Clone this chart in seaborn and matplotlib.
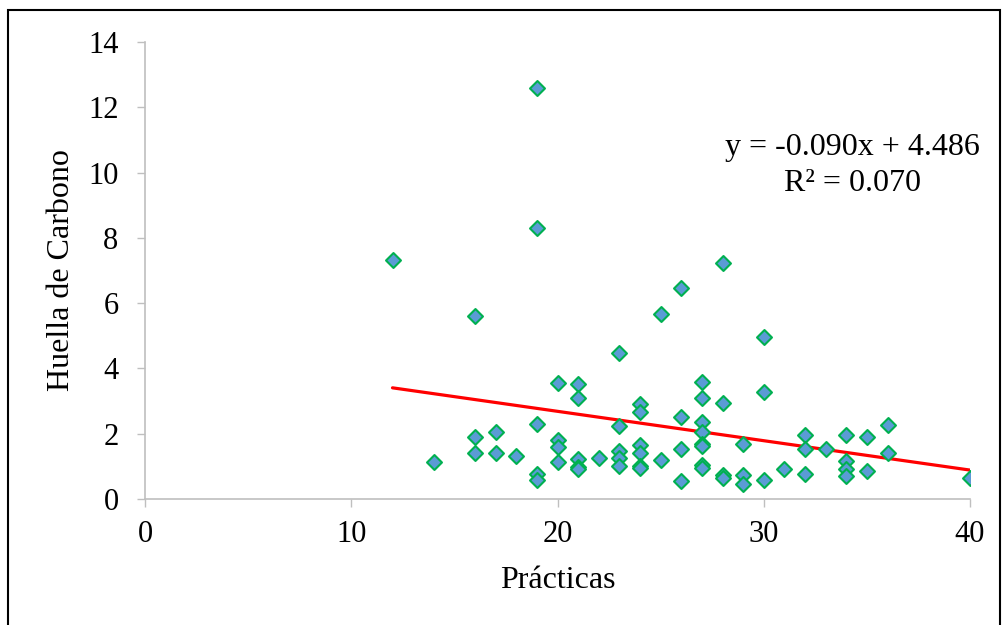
import numpy as np
import pandas as pd
import matplotlib
matplotlib.use("Agg")
import matplotlib.pyplot as plt
import seaborn as sns
from matplotlib.patches import Rectangle

# ---- data ----
practicas = [12,
             14,
             16, 16, 16,
             17, 17,
             18,
             19, 19, 19, 19, 19,
             20, 20, 20, 20,
             21, 21, 21, 21, 21,
             22,
             23, 23, 23, 23, 23,
             24, 24, 24, 24, 24, 24,
             25, 25,
             26, 26, 26, 26,
             27, 27, 27, 27, 27, 27, 27, 27,
             28, 28, 28, 28,
             29, 29, 29,
             30, 30, 30,
             31,
             32, 32, 32,
             33,
             34, 34, 34, 34,
             35, 35,
             36, 36,
             40]
huella = [7.32,
          1.14,
          5.60, 1.90, 1.42,
          2.04, 1.40,
          1.33,
          12.58, 8.31, 2.29, 0.77, 0.57,
          3.55, 1.81, 1.58, 1.13,
          3.53, 3.09, 1.23, 0.99, 0.91,
          1.27,
          4.46, 2.24, 1.46, 1.27, 1.00,
          2.91, 2.67, 1.64, 1.40, 1.00, 0.96,
          5.66, 1.19,
          6.45, 2.50, 1.52, 0.56,
          3.57, 3.10, 2.35, 2.05, 1.70, 1.62, 1.05, 0.95,
          7.23, 2.94, 0.74, 0.65,
          1.68, 0.74, 0.46,
          4.95, 3.27, 0.57,
          0.92,
          1.97, 1.54, 0.78,
          1.52,
          1.97, 1.17, 0.91, 0.70,
          1.91, 0.86,
          2.26, 1.41,
          0.65]
# linear trendline as printed on the chart
trend_slope = -0.090
trend_intercept = 4.486
trend_r2 = 0.070
x_ticks = [0, 10, 20, 30, 40]
y_ticks = [0, 2, 4, 6, 8, 10, 12, 14]

df = pd.DataFrame({"Prácticas": practicas, "Huella de Carbono": huella})
trend_x = [min(practicas), max(practicas)]
trend_df = pd.DataFrame({"x": trend_x,
                         "y": [trend_slope * v + trend_intercept for v in trend_x]})
equation_text = f"y = {trend_slope:.3f}x + {trend_intercept:.3f}\nR² = {trend_r2:.3f}"

sns.set_style("white")
plt.rcParams["font.family"] = ["Liberation Serif", "DejaVu Serif"]
plt.rcParams["text.color"] = "black"
plt.rcParams["axes.labelcolor"] = "black"

fig = plt.figure(figsize=(10.04, 6.25), dpi=100)
ax = fig.add_axes([145/1004, 1-499/625, (970-145)/1004, (499-42)/625])

sns.lineplot(data=trend_df, x="x", y="y", ax=ax, color="#FF0000",
             linewidth=2.3, zorder=1)
sns.scatterplot(data=df, x="Prácticas", y="Huella de Carbono", ax=ax,
                marker="D", s=58, color="#5B9BD5", edgecolor="#00B050",
                linewidth=1.5, zorder=3)

ax.set_xlim(0, 40)
ax.set_ylim(0, 14)
ax.set_xticks(x_ticks)
ax.set_yticks(y_ticks)
ax.set_xticklabels([str(v) for v in x_ticks])
ax.set_yticklabels([str(v) for v in y_ticks])
ax.tick_params(axis="both", labelsize=22, colors="#000000")
ax.tick_params(axis="y", direction="out", length=6, width=1.0, color="#BFBFBF",
               pad=13, left=True)
ax.tick_params(axis="x", direction="out", length=6, width=1.0, color="#BFBFBF",
               pad=9, bottom=True)

for side in ["top", "right"]:
    ax.spines[side].set_visible(False)
for side in ["left", "bottom"]:
    ax.spines[side].set_color("#BFBFBF")
    ax.spines[side].set_linewidth(1.2)

ax.set_xlabel("Prácticas", fontsize=23, labelpad=12, color="black")
ax.set_ylabel("Huella de Carbono", fontsize=23, labelpad=9, color="black")

ax.text(0.857, 0.73, equation_text, transform=ax.transAxes,
        ha="center", va="center", multialignment="center",
        fontsize=23, linespacing=1.35, color="black")

fig.patches.append(Rectangle((8/1004, -0.05), (1000-8)/1004, 1.05 - 10/625,
                             transform=fig.transFigure, fill=False,
                             edgecolor="black", linewidth=1.5))

fig.savefig("out.png", dpi=100)
